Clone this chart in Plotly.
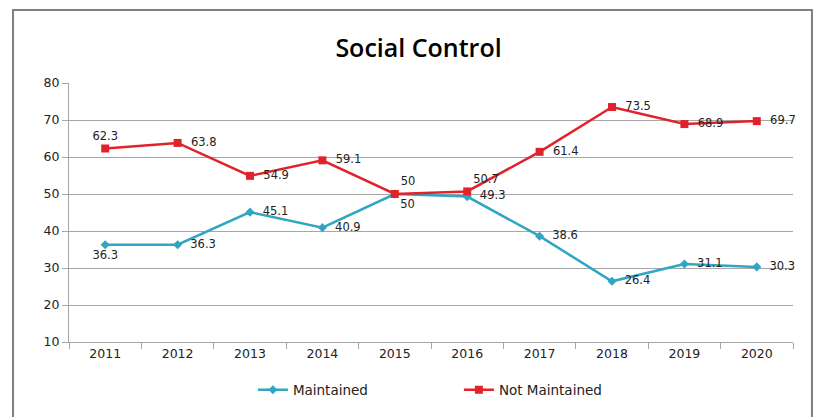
import plotly.graph_objects as go

years = ["2011", "2012", "2013", "2014", "2015", "2016", "2017", "2018", "2019", "2020"]
maintained = [36.3, 36.3, 45.1, 40.9, 50, 49.3, 38.6, 26.4, 31.1, 30.3]
not_maintained = [62.3, 63.8, 54.9, 59.1, 50, 50.7, 61.4, 73.5, 68.9, 69.7]

maint_pos = ["bottom center", "middle right", "middle right", "middle right", "bottom right",
             "middle right", "middle right", "middle right", "middle right", "middle right"]
not_pos = ["top center", "middle right", "middle right", "middle right", "top right",
           "top right", "middle right", "middle right", "middle right", "middle right"]


def labels(vals, pos):
    return [("  " if p == "middle right" else "") + str(v) for v, p in zip(vals, pos)]


fig = go.Figure()
fig.add_trace(go.Scatter(
    x=years, y=maintained, name="Maintained", mode="lines+markers+text",
    line=dict(color="#2FA6C4", width=2.5),
    marker=dict(symbol="diamond", size=7, color="#2FA6C4"),
    text=labels(maintained, maint_pos), textposition=maint_pos,
    textfont=dict(family="DejaVu Sans", size=11.5, color="#222222"),
    cliponaxis=False,
))
fig.add_trace(go.Scatter(
    x=years, y=not_maintained, name="Not Maintained", mode="lines+markers+text",
    line=dict(color="#E2222B", width=2.5),
    marker=dict(symbol="square", size=8, color="#E2222B"),
    text=labels(not_maintained, not_pos), textposition=not_pos,
    textfont=dict(family="DejaVu Sans", size=11.5, color="#222222"),
    cliponaxis=False,
))

fig.add_shape(type="rect", xref="paper", yref="paper",
              x0=-0.0773, x1=1.0262, y0=-0.4, y1=1.2819,
              line=dict(color="#7F7F7F", width=2), layer="below")

fig.update_layout(
    width=821, height=417,
    margin=dict(l=61, r=36, t=75, b=83, autoexpand=False),
    paper_bgcolor="white", plot_bgcolor="white",
    title=dict(text="Social Control", x=0.5, xanchor="center", y=0.904, yanchor="middle",
               font=dict(family="Open Sans", size=25, color="#000000", weight=600)),
    font=dict(family="DejaVu Sans", color="#222222"),
    showlegend=True,
    legend=dict(orientation="h", x=0.254, xanchor="left", y=-0.185, yanchor="middle",
                font=dict(family="DejaVu Sans", size=13.5, color="#222222"),
                itemwidth=30, entrywidth=161, entrywidthmode="pixels"),
    xaxis=dict(type="category", range=[-0.5, 9.5], showgrid=False, showline=True,
               linecolor="#A6A6A6", linewidth=1,
               ticks="outside", tickson="boundaries", ticklen=6, tickcolor="#A6A6A6",
               tickfont=dict(family="DejaVu Sans", size=12.5, color="#222222"), automargin=False),
    yaxis=dict(range=[10, 80], dtick=10, showgrid=True, gridcolor="#A6A6A6", gridwidth=1,
               showline=True, linecolor="#A6A6A6", linewidth=1, ticks="outside", ticklen=6,
               tickcolor="#A6A6A6", zeroline=False, automargin=False,
               tickfont=dict(family="DejaVu Sans", size=12.5, color="#222222")),
)

fig.write_html("out.html")
